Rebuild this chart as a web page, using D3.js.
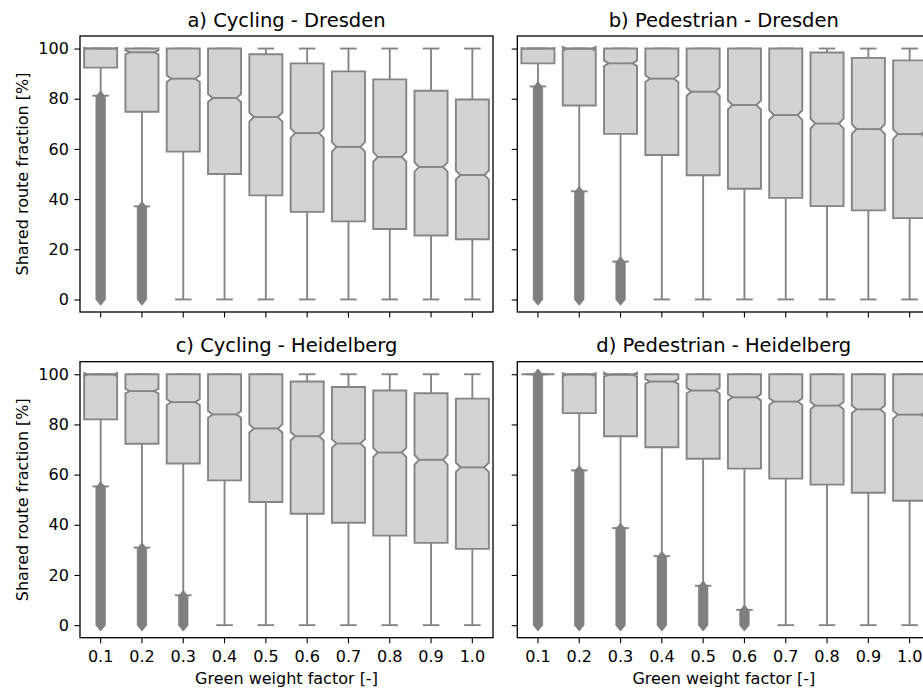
<!DOCTYPE html>
<html>
<head>
<meta charset="utf-8">
<script src="https://cdn.jsdelivr.net/npm/d3@7"></script>
<style>
  body { margin: 0; background: #fff; }
  svg { display: block; font-family: "DejaVu Sans", sans-serif; }
</style>
</head>
<body>
<svg id="chart" width="923" height="690"></svg>
<script>
// Categories and labels
const factors = ["0.1", "0.2", "0.3", "0.4", "0.5", "0.6", "0.7", "0.8", "0.9", "1.0"];
const titles = ["a) Cycling - Dresden", "b) Pedestrian - Dresden", "c) Cycling - Heidelberg", "d) Pedestrian - Heidelberg"];
const yTicks = [0, 20, 40, 60, 80, 100];
const yLabel = "Shared route fraction [%]";
const xLabel = "Green weight factor [-]";

// Upper whisker reaches 100 % for every box
const topWhisker = [100, 100, 100, 100, 100, 100, 100, 100, 100, 100];

// a) Cycling - Dresden
const cycDdQ1 = [92.4, 74.8, 58.9, 50.0, 41.5, 34.9, 31.1, 28.1, 25.5, 24.0];
const cycDdMed = [100, 98.5, 88.0, 80.3, 72.7, 66.3, 60.8, 56.8, 52.8, 49.6];
const cycDdQ3 = [100, 100, 100, 100, 97.7, 94.1, 90.9, 87.7, 83.2, 79.7];
const cycDdLow = [81.2, 37.1, 0, 0, 0, 0, 0, 0, 0, 0];
const cycDdFlierTop = [80.8, 36.7, null, null, null, null, null, null, null, null];

// b) Pedestrian - Dresden
const pedDdQ1 = [94.1, 77.3, 66.0, 57.6, 49.5, 44.1, 40.5, 37.2, 35.5, 32.4];
const pedDdMed = [100, 99.9, 94.1, 88.0, 82.8, 77.5, 73.5, 70.1, 67.9, 65.9];
const pedDdQ3 = [100, 100, 100, 100, 100, 100, 100, 98.4, 96.3, 95.3];
const pedDdLow = [84.9, 43.1, 15.1, 0, 0, 0, 0, 0, 0, 0];
const pedDdFlierTop = [84.5, 42.7, 14.7, null, null, null, null, null, null, null];

// c) Cycling - Heidelberg
const cycHdQ1 = [82.0, 72.3, 64.4, 57.7, 49.1, 44.4, 40.8, 35.7, 32.8, 30.4];
const cycHdMed = [99.9, 93.3, 88.9, 84.0, 78.4, 75.3, 72.4, 68.8, 65.9, 62.9];
const cycHdQ3 = [100, 100, 100, 100, 100, 97.1, 94.9, 93.5, 92.4, 90.3];
const cycHdLow = [55.3, 30.9, 11.9, 0, 0, 0, 0, 0, 0, 0];
const cycHdFlierTop = [54.9, 30.5, 11.5, null, null, null, null, null, null, null];

// d) Pedestrian - Heidelberg
const pedHdQ1 = [100, 84.5, 75.3, 70.9, 66.3, 62.4, 58.4, 56.0, 52.8, 49.6];
const pedHdMed = [100, 99.9, 99.8, 97.1, 93.5, 90.8, 89.1, 87.5, 86.0, 83.9];
const pedHdQ3 = [100, 100, 100, 100, 100, 100, 100, 100, 100, 100];
const pedHdLow = [100, 61.7, 38.7, 27.5, 15.7, 6.1, 0, 0, 0, 0];
const pedHdFlierTop = [99.8, 61.3, 38.3, 27.1, 15.3, 5.7, null, null, null, null];

// fliers always run down to 0 %
const flierBottom = 0;

const panels = [
    { title: titles[0], q1: cycDdQ1, med: cycDdMed, q3: cycDdQ3, lo: cycDdLow, fl: cycDdFlierTop, col: 0, row: 0 },
    { title: titles[1], q1: pedDdQ1, med: pedDdMed, q3: pedDdQ3, lo: pedDdLow, fl: pedDdFlierTop, col: 1, row: 0 },
    { title: titles[2], q1: cycHdQ1, med: cycHdMed, q3: cycHdQ3, lo: cycHdLow, fl: cycHdFlierTop, col: 0, row: 1 },
    { title: titles[3], q1: pedHdQ1, med: pedHdMed, q3: pedHdQ3, lo: pedHdLow, fl: pedHdFlierTop, col: 1, row: 1 }
];

const W = 413, H = 276;
const colX = [80, 517.3];
const rowY = [36, 361.7];
const boxFill = "#d3d3d3";
const lineCol = "#858585";
const flierCol = "#7f7f7f";
const notchK = 0.032;   // 1.57 / sqrt(n)

const svg = d3.select("#chart");

const x = d3.scaleBand().domain(factors).range([0, W]).padding(0);
const y = d3.scaleLinear().domain([-5, 105]).range([H, 0]);

function drawPanel(p) {
    const g = svg.append("g")
        .attr("transform", `translate(${colX[p.col]},${rowY[p.row]})`);

    const bw = x.bandwidth() * 0.8;
    const capW = bw * 0.5;
    const indent = bw * 0.14;

    factors.forEach((f, i) => {
        const cx = x(f) + x.bandwidth() / 2;
        const q1 = p.q1[i], q3 = p.q3[i], med = p.med[i];
        const half = notchK * (q3 - q1);
        const bl = cx - bw / 2, br = cx + bw / 2;

        // whiskers and caps
        [[q1, p.lo[i]], [q3, topWhisker[i]]].forEach(([a, b]) => {
            g.append("line")
                .attr("x1", cx).attr("x2", cx)
                .attr("y1", y(a)).attr("y2", y(b))
                .attr("stroke", lineCol).attr("stroke-width", 1.9);
            g.append("line")
                .attr("x1", cx - capW / 2).attr("x2", cx + capW / 2)
                .attr("y1", y(b)).attr("y2", y(b))
                .attr("stroke", lineCol).attr("stroke-width", 1.9);
        });

        // notched box, same vertex order as matplotlib
        const pts = [
            [bl, q1], [br, q1], [br, med - half], [br - indent, med], [br, med + half],
            [br, q3], [bl, q3], [bl, med + half], [bl + indent, med], [bl, med - half], [bl, q1]
        ];
        g.append("path")
            .attr("d", d3.line().x(d => d[0]).y(d => y(d[1]))(pts) + "Z")
            .attr("fill", boxFill)
            .attr("stroke", lineCol)
            .attr("stroke-width", 1.9)
            .attr("stroke-linejoin", "miter");

        g.append("line")
            .attr("x1", bl + indent).attr("x2", br - indent)
            .attr("y1", y(med)).attr("y2", y(med))
            .attr("stroke", lineCol).attr("stroke-width", 1.9);

        // dense diamond fliers merge into one band
        if (p.fl[i] !== null) {
            const h = 6, w = 4.8;
            const yt = y(p.fl[i]), yb = y(flierBottom);
            g.append("path")
                .attr("d", `M${cx},${yt - h}L${cx + w},${yt}L${cx + w},${yb}L${cx},${yb + h}L${cx - w},${yb}L${cx - w},${yt}Z`)
                .attr("fill", flierCol)
                .attr("stroke", flierCol)
                .attr("stroke-width", 0.6);
        }
    });

    // axes
    const yAxis = g.append("g")
        .call(d3.axisLeft(y).tickValues(yTicks).tickSize(5.6).tickPadding(5.6)
            .tickFormat(p.col === 0 ? d3.format("d") : ""));
    const xAxis = g.append("g")
        .attr("transform", `translate(0,${H})`)
        .call(d3.axisBottom(x).tickSize(5.6).tickPadding(7)
            .tickFormat(p.row === 1 ? (d => d) : ""));

    [yAxis, xAxis].forEach(a => {
        a.select(".domain").remove();
        a.attr("font-family", null).attr("font-size", null);
        a.selectAll("line").attr("stroke", "#000").attr("stroke-width", 1.1);
        a.selectAll("text").attr("fill", "#000").style("font-size", "16px");
    });

    g.append("rect")
        .attr("width", W).attr("height", H)
        .attr("fill", "none")
        .attr("stroke", "#000")
        .attr("stroke-width", 1.3);

    g.append("text")
        .attr("x", W / 2).attr("y", -9.5)
        .attr("text-anchor", "middle")
        .style("font-size", "19.5px")
        .text(p.title);

    if (p.col === 0) {
        g.append("text")
            .attr("transform", `translate(${27.5 - colX[0]},${H / 2}) rotate(-90)`)
            .attr("text-anchor", "middle")
            .style("font-size", "16px")
            .text(yLabel);
    }
    if (p.row === 1) {
        g.append("text")
            .attr("x", W / 2).attr("y", H + 46)
            .attr("text-anchor", "middle")
            .style("font-size", "16px")
            .text(xLabel);
    }
}

panels.forEach(drawPanel);
</script>
</body>
</html>
